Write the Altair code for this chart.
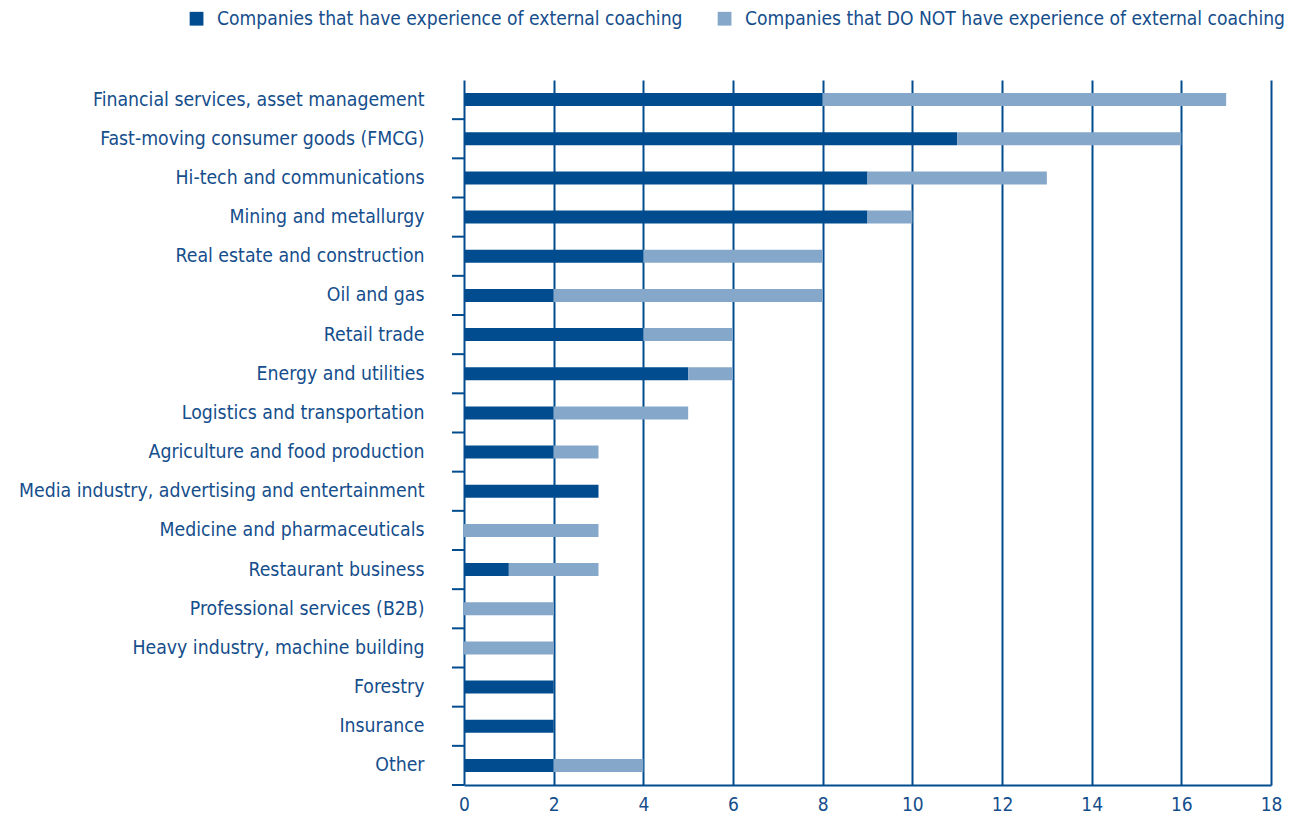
import altair as alt
import pandas as pd

categories = [
    "Financial services, asset management",
    "Fast-moving consumer goods (FMCG)",
    "Hi-tech and communications",
    "Mining and metallurgy",
    "Real estate and construction",
    "Oil and gas",
    "Retail trade",
    "Energy and utilities",
    "Logistics and transportation",
    "Agriculture and food production",
    "Media industry, advertising and entertainment",
    "Medicine and pharmaceuticals",
    "Restaurant business",
    "Professional services (B2B)",
    "Heavy industry, machine building",
    "Forestry",
    "Insurance",
    "Other",
]
have_experience = [8, 11, 9, 9, 4, 2, 4, 5, 2, 2, 3, 0, 1, 0, 0, 2, 2, 2]
no_experience = [9, 5, 4, 1, 4, 6, 2, 1, 3, 1, 0, 3, 2, 2, 2, 0, 0, 2]
series = [
    "Companies that have experience of external coaching",
    "Companies that DO NOT have experience of external coaching",
]
x_ticks = [0, 2, 4, 6, 8, 10, 12, 14, 16, 18]

DARK = "#004C8F"
LIGHT = "#84A7CA"
TEXT = "#154E8C"
FONT = "DejaVu Sans Condensed"

rows = []
for c, a, b in zip(categories, have_experience, no_experience):
    rows.append({"category": c, "series": series[0], "value": a, "ord": 0})
    rows.append({"category": c, "series": series[1], "value": b, "ord": 1})
df = pd.DataFrame(rows)
ticks_df = pd.DataFrame({"category": categories})

W, H = 807, 705
P_OUT = 0.335
step = H / len(categories)

y_enc = alt.Y("category:N", sort=categories, title=None,
              scale=alt.Scale(paddingInner=0.67, paddingOuter=P_OUT),
              axis=alt.Axis(ticks=False, domain=False, labelPadding=40,
                            labelFontSize=19.3, labelColor=TEXT, labelFont=FONT,
                            labelLimit=600))

bars = alt.Chart(df).mark_bar().encode(
    x=alt.X("value:Q", stack="zero", title=None,
            scale=alt.Scale(domain=[0, 18], nice=False),
            axis=alt.Axis(values=x_ticks, grid=True, gridColor=DARK, gridWidth=2,
                          gridOpacity=1, domainColor=DARK, domainWidth=2,
                          ticks=False, labelPadding=10, labelFontSize=19,
                          labelFlush=False,
                          labelColor=TEXT, labelFont=FONT)),
    y=y_enc,
    color=alt.Color("series:N", scale=alt.Scale(domain=series, range=[DARK, LIGHT]),
                    legend=alt.Legend(title=None, orient="none", direction="horizontal",
                                      legendX=-277, legendY=-71,
                                      symbolType="square", symbolSize=190,
                                      symbolStrokeWidth=0, symbolOpacity=1,
                                      labelFontSize=19.1, labelColor=TEXT, labelFont=FONT,
                                      labelOffset=11, columnPadding=32,
                                      labelLimit=700)),
    order=alt.Order("ord:Q"),
)

tick_rules = alt.Chart(ticks_df).mark_rule(color=DARK, strokeWidth=2).encode(
    y=y_enc,
    yOffset=alt.value(step * (1 - P_OUT)),
    x=alt.value(-12),
    x2=alt.value(0),
)

chart = alt.layer(bars, tick_rules).properties(
    width=W, height=H,
    autosize=alt.AutoSizeParams(type="none"),
    padding={"left": 456, "top": 72, "right": 22, "bottom": 29},
).configure_view(stroke=None)

chart.save("out.html", embed_options={"renderer": "svg", "actions": False})
